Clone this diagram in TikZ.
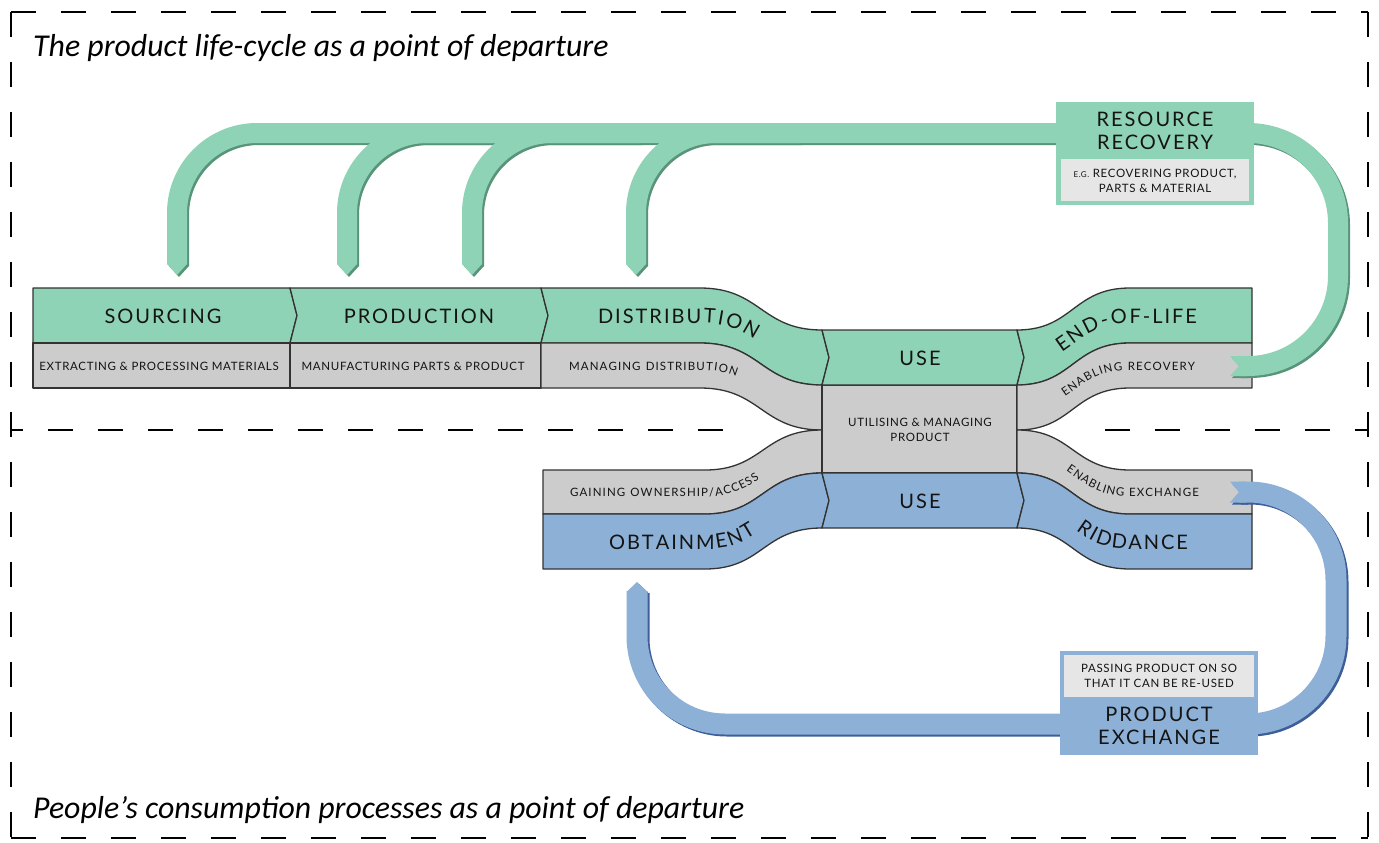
\documentclass[tikz,border=0pt]{standalone}
\usepackage{fontspec}
\setmainfont{Carlito}
\usetikzlibrary{decorations.text}
\newfontfamily\capsfontB[LetterSpace=10]{Lato}
\newfontfamily\capsfontS[LetterSpace=6]{Lato}
\newfontfamily\capsfontC{Lato}
\newcommand{\lblbig}{\capsfontB\fontsize{20}{23}\selectfont}
\newcommand{\lblsm}{\capsfontS\fontsize{11.5}{15}\selectfont}
\newcommand{\crvbig}{\capsfontC\fontsize{20}{23}\selectfont\kern2.0pt}
\newcommand{\crvsm}{\capsfontC\fontsize{11.5}{15}\selectfont\kern1.1pt}
\newcommand{\lbltiny}{\capsfontS\fontsize{8}{10}\selectfont}
\newcommand{\ttlfont}{\itshape\fontsize{31.8}{36}\selectfont}
\definecolor{grn}{RGB}{143,211,182}
\definecolor{grnd}{RGB}{88,148,122}
\definecolor{gry}{RGB}{204,204,204}
\definecolor{lgry}{RGB}{230,230,230}
\definecolor{blu}{RGB}{141,176,214}
\definecolor{blud}{RGB}{62,94,153}
\definecolor{edge}{RGB}{51,51,51}
\definecolor{ink}{RGB}{20,20,20}
\newcommand{\greenloop}[1]{%
  \draw[band, draw=#1, rounded corners=80pt] (177,264) -- (177,133) -- (1120,133);
  \draw[band, draw=#1, rounded corners=80pt] (347,264) -- (347,133) -- (520,133);
  \draw[band, draw=#1, rounded corners=80pt] (472,264) -- (472,133) -- (640,133);
  \draw[band, draw=#1, rounded corners=80pt] (636,264) -- (636,133) -- (800,133);
  \draw[band, draw=#1, rounded corners=90pt] (1100,133) -- (1338,133) -- (1338,366) -- (1239,366);
  \foreach \xx in {177,347,472,636}{\fill[#1] (\xx-10,264) -- (\xx+10,264) -- (\xx,275) -- cycle;}
  \fill[#1] (1230,356) -- (1246,356) -- (1246,376) -- (1230,376) -- (1239,366) -- cycle;
}
\newcommand{\blueloop}[1]{%
  \draw[bandb, draw=#1, rounded corners=88pt] (1239,492) -- (1336,492) -- (1336,724) -- (637,724) -- (637,591);
  \fill[#1] (626.5,592) -- (647.5,592) -- (637,582) -- cycle;
  \fill[#1] (1230,481.5) -- (1246,481.5) -- (1246,502.5) -- (1230,502.5) -- (1239,492) -- cycle;
}
\begin{document}
\begin{tikzpicture}[x=1pt,y=-1pt,
  sh/.style={draw=edge, line width=1.3pt, line join=round},
  band/.style={line width=20pt, line cap=butt},
  bandb/.style={line width=21pt, line cap=butt},
  border/.style={line width=2pt, draw=black, dash pattern=on 25pt off 25pt},
  big/.style={font=\lblbig, text=ink, inner sep=0pt, align=center},
  sm/.style={font=\lblsm, text=ink, inner sep=0pt, align=center},
  ttl/.style={font=\ttlfont, text=black, inner sep=0pt, anchor=base west}]
\useasboundingbox (0,0) rectangle (1379,843);
\fill[white] (0,0) rectangle (1379,843);
% dashed frame
\draw[border] (11,12) -- (1368,12);
\draw[border] (11,12) -- (11,838);
\draw[border] (1368,12) -- (1368,838);
\draw[border] (11,838) -- (1368,838);
\draw[border, dash phase=13pt] (11,430) -- (723,430);
\draw[border] (1105,430) -- (1368,430);
% titles
\node[ttl] (t1) at (33,57) {The product life-cycle as a point of departure};
\node[ttl] (t2) at (33,818) {People’s consumption processes as a point of departure};
% ---------- main band ----------
\filldraw[sh, fill=grn] (33,288) -- (290,288) -- (297,315.5) -- (290,343) -- (33,343) -- cycle;
\filldraw[sh, fill=gry] (33,343) -- (290,343) -- (290,388) -- (33,388) -- cycle;
\filldraw[sh, fill=grn] (290,288) -- (541,288) -- (548,315.5) -- (541,343) -- (290,343) -- (297,315.5) -- cycle;
\filldraw[sh, fill=gry] (290,343) -- (541,343) -- (541,388) -- (290,388) -- cycle;
\filldraw[sh, fill=grn] (541,288) -- (700,288) .. controls (761,288) and (761,330) .. (822,330) -- (829,357.5) -- (822,385) .. controls (761,385) and (761,343) .. (700,343) -- (541,343) -- (548,315.5) -- cycle;
\filldraw[sh, fill=gry] (541,343) -- (700,343) .. controls (761,343) and (761,385) .. (822,385) -- (822,430) .. controls (761,430) and (761,388) .. (700,388) -- (541,388) -- cycle;
\filldraw[sh, fill=gry] (543,470) -- (705,470) .. controls (763,470) and (763,430) .. (822,430) -- (822,473) .. controls (763,473) and (763,514) .. (705,514) -- (543,514) -- cycle;
\filldraw[sh, fill=blu] (543,514) -- (705,514) .. controls (763,514) and (763,473) .. (822,473) -- (829,500.5) -- (822,528) .. controls (763,528) and (763,569) .. (705,569) -- (543,569) -- cycle;
\filldraw[sh, fill=gry] (822,385) rectangle (1017,473);
\filldraw[sh, fill=grn] (822,330) -- (1017,330) -- (1024,357.5) -- (1017,385) -- (822,385) -- (829,357.5) -- cycle;
\filldraw[sh, fill=blu] (822,473) -- (1017,473) -- (1024,500.5) -- (1017,528) -- (822,528) -- (829,500.5) -- cycle;
\filldraw[sh, fill=grn] (1017,330) .. controls (1073,330) and (1073,288) .. (1130,288) -- (1252,288) -- (1252,343) -- (1130,343) .. controls (1073,343) and (1073,385) .. (1017,385) -- (1024,357.5) -- cycle;
\filldraw[sh, fill=gry] (1017,385) .. controls (1073,385) and (1073,343) .. (1130,343) -- (1252,343) -- (1252,388) -- (1130,388) .. controls (1073,388) and (1073,430) .. (1017,430) -- cycle;
\filldraw[sh, fill=gry] (1017,430) .. controls (1073,430) and (1073,470) .. (1130,470) -- (1252,470) -- (1252,514) -- (1130,514) .. controls (1073,514) and (1073,473) .. (1017,473) -- cycle;
\filldraw[sh, fill=blu] (1017,473) .. controls (1073,473) and (1073,514) .. (1130,514) -- (1252,514) -- (1252,569) -- (1130,569) .. controls (1073,569) and (1073,528) .. (1017,528) -- (1024,500.5) -- cycle;
% straight labels
\node[big] (src) at (163,316) {SOURCING};
\node[sm] (srcd) at (159,366) {EXTRACTING \& PROCESSING MATERIALS};
\node[big] (prd) at (419,316) {PRODUCTION};
\node[sm] (prdd) at (413,366) {MANUFACTURING PARTS \& PRODUCT};
\node[big] (useg) at (920,358) {USE};
\node[sm] (util) at (920,430) {UTILISING \& MANAGING\\PRODUCT};
\node[big] (useb) at (920,501) {USE};
% curved labels
\path[decorate, decoration={text along path, text={|\color{ink}\crvbig|DISTRIBUTION}, text align={left indent=55pt}}]
  (541,323) -- (700,323) .. controls (761,323) and (761,365) .. (822,365);
\path[decorate, decoration={text along path, text={|\color{ink}\crvsm|MANAGING DISTRIBUTION}, text align={left indent=27pt}}]
  (541,370) -- (700,370) .. controls (761,370) and (761,412) .. (822,412);
\path[decorate, decoration={text along path, text={|\color{ink}\crvbig|END-OF-LIFE}, text align={align=right, right indent=55pt}}]
  (1017,365) .. controls (1073,365) and (1073,323) .. (1130,323) -- (1252,323);
\path[decorate, decoration={text along path, text={|\color{ink}\crvsm|ENABLING RECOVERY}, text align={align=right, right indent=57pt}}]
  (1017,412) .. controls (1073,412) and (1073,370) .. (1130,370) -- (1252,370);
\path[decorate, decoration={text along path, text={|\color{ink}\crvsm|ENABLING EXCHANGE}, text align={align=right, right indent=53pt}}]
  (1017,455) .. controls (1073,455) and (1073,496.5) .. (1130,496.5) -- (1252,496.5);
\path[decorate, decoration={text along path, text={|\color{ink}\crvbig|RIDDANCE}, text align={align=right, right indent=64pt}}]
  (1017,507.5) .. controls (1073,507.5) and (1073,549) .. (1130,549) -- (1252,549);
\path[decorate, decoration={text along path, text={|\color{ink}\crvsm|GAINING OWNERSHIP/ACCESS}, text align={left indent=26pt}}]
  (543,496.5) -- (705,496.5) .. controls (763,496.5) and (763,456) .. (822,456);
\path[decorate, decoration={text along path, text={|\color{ink}\crvbig|OBTAINMENT}, text align={left indent=64pt}}]
  (543,549) -- (705,549) .. controls (763,549) and (763,508) .. (822,508);
% ---------- loops ----------
\begin{scope}[shift={(2,2)}]\greenloop{grnd}\end{scope}
\greenloop{grn}
\begin{scope}[shift={(2,2)}]\blueloop{blud}\end{scope}
\blueloop{blu}
% resource recovery box
\fill[grn] (1056,102) rectangle (1254,205);
\fill[lgry] (1061,159) rectangle (1249,201);
\node[big] (rr) at (1155,131) {RESOURCE\\RECOVERY};
\node[sm] (rrd) at (1155,181) {{\lbltiny E.G.} RECOVERING PRODUCT,\\PARTS \& MATERIAL};
% product exchange box
\fill[blu] (1060,651) rectangle (1258,755);
\fill[lgry] (1064,655) rectangle (1254,697);
\node[sm] (ped) at (1159,675.5) {PASSING PRODUCT ON SO\\THAT IT CAN BE RE-USED};
\node[big] (pe) at (1159,726) {PRODUCT\\EXCHANGE};
\end{tikzpicture}
\end{document}
